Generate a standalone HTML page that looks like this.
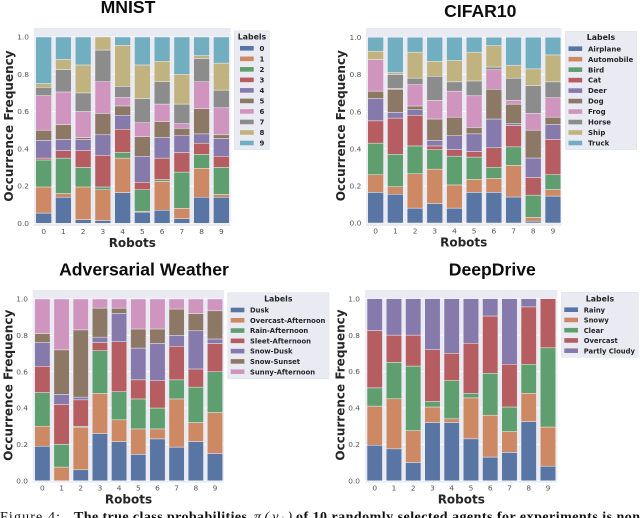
<!DOCTYPE html>
<html lang="en">
<head>
<meta charset="utf-8">
<title>Class occurrence frequency by robot</title>
<style>
html,body{margin:0;padding:0;background:#fff;width:640px;height:518px;overflow:hidden}
svg{display:block;filter:blur(0.35px)}
</style>
</head>
<body>
<svg id="figure" width="640" height="518" viewBox="0 0 640 518" xmlns="http://www.w3.org/2000/svg">
<g font-family="'Liberation Serif',serif" font-size="14" fill="#111">
<text x="0" y="521" textLength="60" lengthAdjust="spacing">Figure 4:</text>
<text x="74" y="521" font-weight="bold" textLength="173" lengthAdjust="spacing">The true class probabilities</text>
<text x="254" y="521" font-style="italic" textLength="38" lengthAdjust="spacing">π(yᵢ)</text>
<text x="296" y="521" font-weight="bold" textLength="344" lengthAdjust="spacing">of 10 randomly selected agents for experiments is non</text>
</g>
</svg>
<script>
const robots = ['0','1','2','3','4','5','6','7','8','9'];
const yTickLabels = ['0.0','0.2','0.4','0.6','0.8','1.0'];
const yTickValues = [0,0.2,0.4,0.6,0.8,1];
const seriesColors = ['#5975a4','#cc8963','#5f9e6e','#b55d60','#857aab','#8d7866','#d095bf','#8c8c8c','#c1b37f','#71aec0'];

const mnistLabels = ['0','1','2','3','4','5','6','7','8','9'];
const mnistShares = [
[.055,.14,.145,.01,.095,.055,.185,.045,.02,.25],
[.14,.02,.19,.04,.06,.08,.175,.12,.055,.12],
[.02,.175,.105,.09,.06,.01,.14,.10,.15,.15],
[.015,.165,.015,.17,.11,.115,.17,.17,.07,0],
[.165,.185,.03,.125,.075,.05,.045,.06,.22,.045],
[.06,.005,.115,.04,.14,.105,.075,.13,.18,.15],
[.07,.155,.01,.115,.11,.085,.095,.12,.11,.13],
[.025,.055,.195,.105,.09,.04,.025,.105,.16,.20],
[.14,.155,.075,.06,.05,.135,.145,.125,.015,.10],
[.14,.015,.145,.06,.095,.02,.145,.095,.145,.14]
];

const cifarLabels = ['Airplane','Automobile','Bird','Cat','Deer','Dog','Frog','Horse','Ship','Truck'];
const cifarShares = [
[.165,.095,.17,.12,.12,.04,.17,0,.045,.075],
[.155,.04,.175,.195,.03,.125,.005,.075,.01,.19],
[.08,.185,.15,.165,.03,.02,.115,.035,.14,.08],
[.105,.185,.105,.02,.03,.115,.10,.13,.08,.13],
[.08,.125,.155,.035,.075,.10,.14,.05,.115,.125],
[.165,.07,.12,.03,.095,.035,.17,.08,.155,.08],
[.165,.075,.06,.105,.155,.16,.105,.015,.115,.045],
[.14,.17,.10,.115,.01,.105,.02,.12,.07,.15],
[.01,.02,.12,.095,.105,.15,.09,.15,.09,.17],
[.145,.035,.08,.19,.08,.04,.105,.085,.145,.095]
];

const weatherLabels = ['Dusk','Overcast-Afternoon','Rain-Afternoon','Sleet-Afternoon','Snow-Dusk','Snow-Sunset','Sunny-Afternoon'];
const weatherShares = [
[.19,.11,.185,.145,.13,.05,.19],
[0,.075,.125,.22,.055,.245,.28],
[.06,.235,.005,.145,.015,.37,.17],
[.26,.22,.235,.045,.03,.16,.05],
[.215,.12,.155,.275,.155,.03,.05],
[.145,.14,.165,.105,.175,.105,.165],
[.23,.055,.115,.15,.205,.08,.165],
[.185,.265,.105,.185,.06,.145,.055],
[.215,.105,.195,.10,.21,.095,.08],
[.15,.225,.225,.155,.025,.155,.065]
];

const driveLabels = ['Rainy','Snowy','Clear','Overcast','Partly Cloudy'];
const driveShares = [
[.195,.215,.10,.315,.175],
[.175,.275,.20,.15,.20],
[.10,.175,.355,.17,.20],
[.32,.085,.03,.285,.28],
[.32,.02,.21,.15,.30],
[.23,.225,.025,.275,.245],
[.13,.23,.23,.315,.095],
[.155,.115,.135,.235,.36],
[.325,.155,.16,.315,.045],
[.08,.215,.435,.27,0]
];

const svg = document.getElementById('figure');
const NS = 'http://www.w3.org/2000/svg';
const SANS = "'DejaVu Sans',sans-serif";

function make(parent, tag, props, content) {
  const el = document.createElementNS(NS, tag);
  for (const key in props) el.setAttribute(key, props[key]);
  if (content !== undefined) el.textContent = content;
  parent.appendChild(el);
  return el;
}

function drawPanel(p) {
  const panel = make(svg, 'g', {});
  
  

  const yScale = v => p.y0 - v * (p.y0 - p.y1);
  const xCenter = i => p.firstBar + p.pitch * (i + 0.5);
  const barWidth = p.pitch * 0.8;

  const bg = make(panel, 'rect', {x: p.left, y: p.top, width: p.right - p.left, height: p.bottom - p.top, fill: '#eaeaf2'});
  
  

  yTickValues.forEach((v, i) => {
    const grid = make(panel, 'line', {x1: p.left, x2: p.right, y1: yScale(v), y2: yScale(v), stroke: '#fff', 'stroke-width': 0.8});
    
    
    const tick = make(panel, 'text', {x: p.yTickRight, y: yScale(v) + 2.7, 'text-anchor': 'end', 'font-family': SANS, 'font-size': 7.4, fill: '#555'}, yTickLabels[i]);
    
    
  });

  robots.forEach((robot, i) => {
    const tick = make(panel, 'text', {x: xCenter(i), y: p.xTickY, 'text-anchor': 'middle', 'font-family': SANS, 'font-size': 7.4, fill: '#555'}, robot);
    
    
    let sum = 0;
    p.shares[i].forEach((share, s) => {
      if (share > 0) {
        const bar = make(panel, 'rect', {x: xCenter(i) - barWidth / 2, y: yScale(sum + share), width: barWidth, height: yScale(sum) - yScale(sum + share), fill: seriesColors[s], stroke: '#f4f4f8', 'stroke-width': 0.45});
        
        
      }
      sum += share;
    });
  });

  const title = make(panel, 'text', {x: p.titleX, y: p.titleY, 'text-anchor': 'middle', 'font-family': "'Liberation Sans',sans-serif", 'font-weight': 'bold', 'font-size': 17.6, fill: '#0d0d0d'}, p.title);
  
  

  const xTitle = make(panel, 'text', {x: p.xTitleX, y: p.xTitleY, 'text-anchor': 'middle', 'font-family': SANS, 'font-weight': 'bold', 'font-size': 12, fill: '#262626'}, 'Robots');
  
  

  const yTitle = make(panel, 'text', {transform: 'translate(' + p.yTitleX + ' ' + p.yTitleY + ') rotate(-90)', 'text-anchor': 'middle', 'font-family': SANS, 'font-weight': 'bold', 'font-size': 12, fill: '#262626'}, 'Occurrence Frequency');
  
  

  const legend = make(panel, 'g', {});
  
  
  const box = make(legend, 'rect', {x: p.legLeft, y: p.legTop, width: p.legRight - p.legLeft, height: p.legBottom - p.legTop, rx: 1.2, fill: '#eaeaf2', stroke: '#e2e2ea', 'stroke-width': 0.6});
  
  
  const legTitle = make(legend, 'text', {x: p.legTitleX, y: p.legTitleY, 'text-anchor': 'middle', 'font-family': SANS, 'font-weight': 'bold', 'font-size': 7.8, fill: '#262626'}, 'Labels');
  
  
  const step = (p.legLast - p.legFirst) / (p.labels.length - 1);
  p.labels.forEach((label, s) => {
    const cy = p.legFirst + step * s;
    const swatch = make(legend, 'rect', {x: p.swatchX, y: cy - 2.3, width: 13.7, height: 4.6, fill: seriesColors[s]});
    
    
    const entry = make(legend, 'text', {x: p.legTextX, y: cy + 2.6, 'font-family': SANS, 'font-weight': 'bold', 'font-size': p.legFont, fill: '#262626'}, label);
    
    
  });
}

drawPanel({slug:'mnist', title:'MNIST', labels:mnistLabels, shares:mnistShares,
  left:34, right:230.7, top:28, bottom:226, y0:223.3, y1:37, firstBar:33.8, pitch:19.74,
  yTickRight:29, xTickY:234, titleX:128, titleY:13, xTitleX:132.3, xTitleY:247, yTitleX:13, yTitleY:126,
  legLeft:234.3, legRight:269.3, legTop:30.7, legBottom:149.7, legTitleX:252, legTitleY:39.5, legFirst:48.3, legLast:143, swatchX:240, legTextX:259.5, legFont:7});

drawPanel({slug:'cifar10', title:'CIFAR10', labels:cifarLabels, shares:cifarShares,
  left:366, right:561.3, top:28, bottom:226, y0:223, y1:37.3, firstBar:365.8, pitch:19.7,
  yTickRight:361.3, xTickY:233.5, titleX:480.3, titleY:17, xTitleX:463.7, xTitleY:246.5, yTitleX:345, yTitleY:125.7,
  legLeft:565.3, legRight:636.7, legTop:31.3, legBottom:149.7, legTitleX:601, legTitleY:40, legFirst:48.7, legLast:143, swatchX:568.5, legTextX:588, legFont:7});

drawPanel({slug:'adversarial-weather', title:'Adversarial Weather', labels:weatherLabels, shares:weatherShares,
  left:32.7, right:224, top:290, bottom:482.5, y0:480.7, y1:299, firstBar:32.8, pitch:19.18,
  yTickRight:28, xTickY:490.7, titleX:144, titleY:275.7, xTitleX:128.5, xTitleY:503.5, yTitleX:12.5, yTitleY:385.3,
  legLeft:227.7, legRight:329, legTop:292.7, legBottom:378.7, legTitleX:278.3, legTitleY:301.7, legFirst:310, legLast:371.7, swatchX:230.7, legTextX:250, legFont:6.8});

drawPanel({slug:'deepdrive', title:'DeepDrive', labels:driveLabels, shares:driveShares,
  left:365, right:557.3, top:290, bottom:482.5, y0:480.7, y1:298.7, firstBar:365.1, pitch:19.25,
  yTickRight:360, xTickY:490.7, titleX:492.3, titleY:275.7, xTitleX:461.3, xTitleY:503.5, yTitleX:344.7, yTitleY:385,
  legLeft:561.3, legRight:638.3, legTop:292.3, legBottom:357.3, legTitleX:600, legTitleY:301.3, legFirst:309.7, legLast:350.7, swatchX:564.3, legTextX:583.7, legFont:6.8});
</script>
</body>
</html>
